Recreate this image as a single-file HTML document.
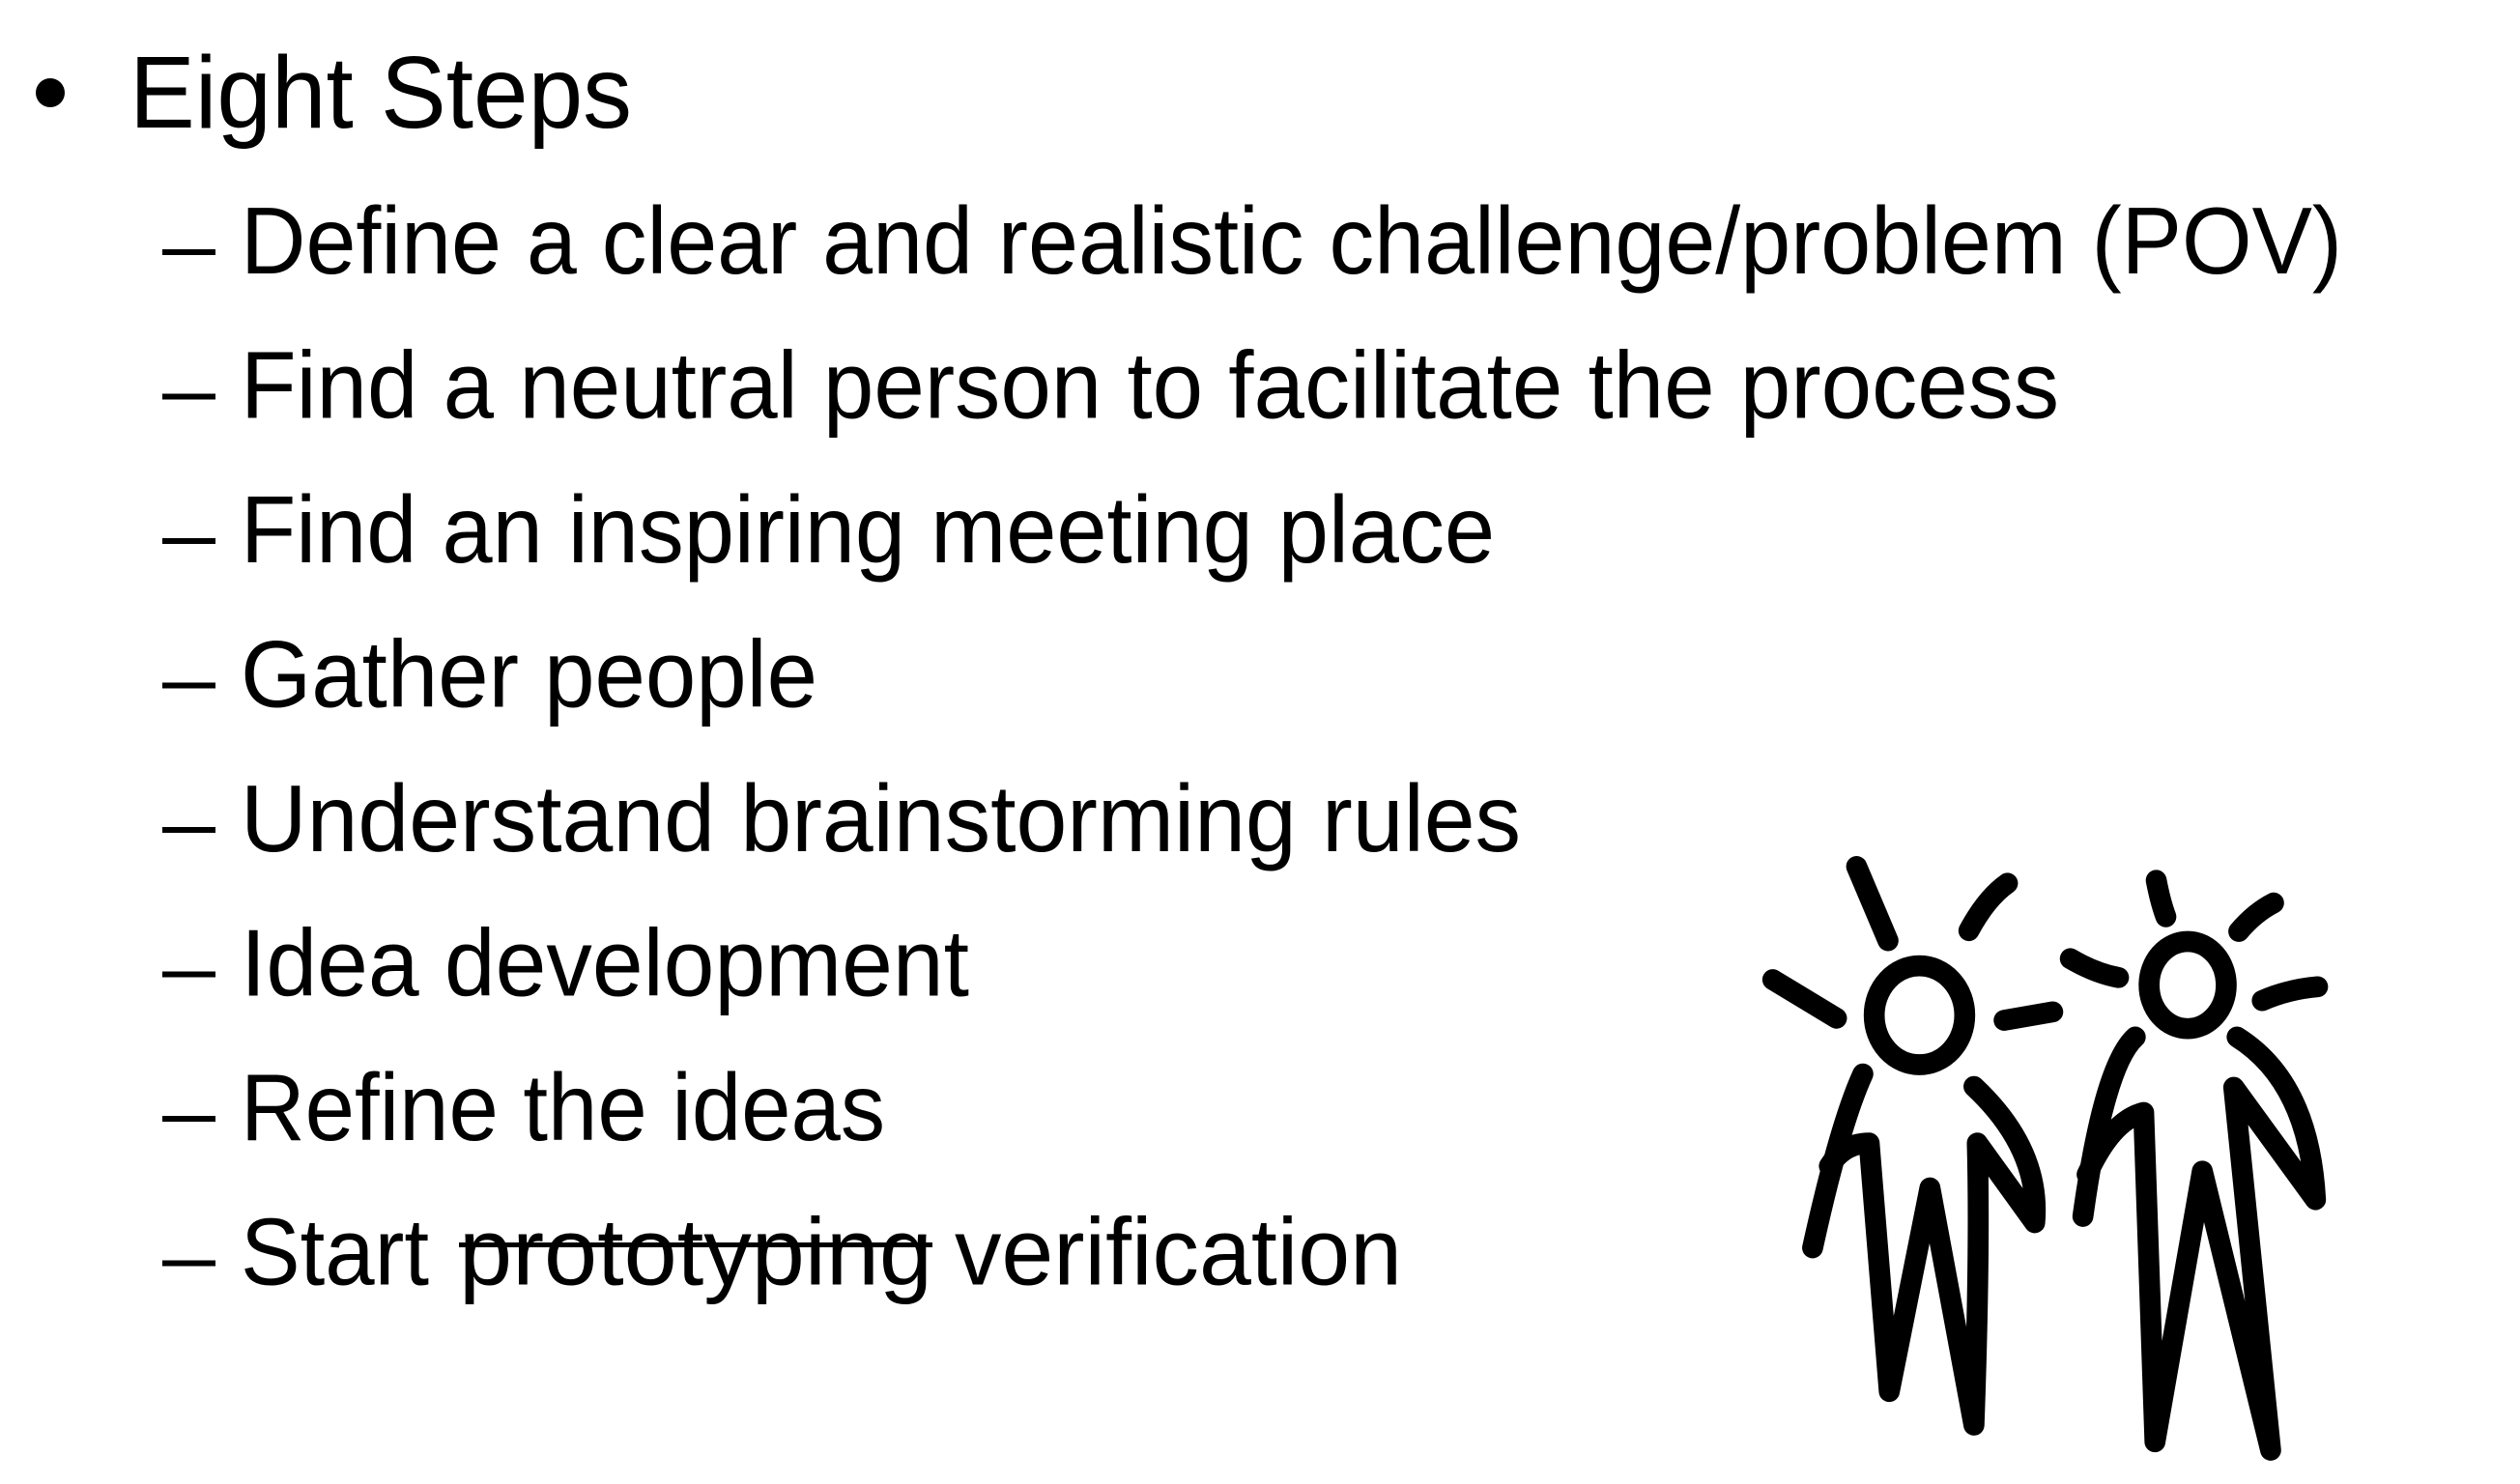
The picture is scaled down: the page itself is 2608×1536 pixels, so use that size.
<!DOCTYPE html>
<html><head><meta charset="utf-8"><style>
html,body{margin:0;padding:0;background:#fff;width:2608px;height:1536px;overflow:hidden}
svg{display:block}
text{font-family:"Liberation Sans",sans-serif;fill:#000}
</style></head><body>
<svg width="2608" height="1536" viewBox="0 0 2608 1536">
<circle cx="52" cy="96" r="15"/>
<text x="134" y="132" font-size="106" textLength="520" lengthAdjust="spacingAndGlyphs">Eight Steps</text>
<g font-size="98">
<rect x="168" y="258" width="55" height="6"/>
<text x="249" y="283" textLength="2175" lengthAdjust="spacingAndGlyphs">Define a clear and realistic challenge/problem (POV)</text>
<rect x="168" y="407.5" width="55" height="6"/>
<text x="249" y="432.5" textLength="1882" lengthAdjust="spacingAndGlyphs">Find a neutral person to facilitate the process</text>
<rect x="168" y="557" width="55" height="6"/>
<text x="249" y="582" textLength="1298" lengthAdjust="spacingAndGlyphs">Find an inspiring meeting place</text>
<rect x="168" y="706.5" width="55" height="6"/>
<text x="249" y="731.5" textLength="597" lengthAdjust="spacingAndGlyphs">Gather people</text>
<rect x="168" y="856" width="55" height="6"/>
<text x="249" y="881" textLength="1325" lengthAdjust="spacingAndGlyphs">Understand brainstorming rules</text>
<rect x="168" y="1005.5" width="55" height="6"/>
<text x="249" y="1030.5" textLength="754" lengthAdjust="spacingAndGlyphs">Idea development</text>
<rect x="168" y="1155" width="55" height="6"/>
<text x="249" y="1180" textLength="667" lengthAdjust="spacingAndGlyphs">Refine the ideas</text>
<rect x="168" y="1304.5" width="55" height="6"/>
<text x="249" y="1329.5" textLength="195" lengthAdjust="spacingAndGlyphs">Start</text>
<text x="475" y="1329.5" textLength="490" lengthAdjust="spacingAndGlyphs">prototyping</text>
<rect x="475" y="1286" width="490" height="5"/>
<text x="988" y="1329.5" textLength="463" lengthAdjust="spacingAndGlyphs">verification</text>
</g>
<g transform="translate(1800,860) scale(0.4337)" fill="none" stroke="#000" stroke-width="50" stroke-linecap="round" stroke-linejoin="round">
<g>
<ellipse cx="430" cy="440" rx="108" ry="118"/>
<path d="M280,85 L355,262 M548,238 Q590,160 640,125 M80,355 L232,447 M632,452 L748,432"/>
<path d="M295,580 Q240,700 175,995"/>
<path d="M215,800 Q250,745 310,745 L358,1338 L455,852 L560,1418 Q575,1000 568,745 L705,935 Q720,760 560,610"/>
</g>
<g>
<ellipse cx="1070" cy="368" rx="92" ry="104"/>
<path d="M995,118 Q1005,170 1018,205 M1192,240 Q1230,195 1275,172 M790,305 Q850,340 905,350 M1248,405 Q1310,378 1380,372"/>
<path d="M945,492 Q870,560 820,920"/>
<path d="M830,820 Q890,690 965,672 L992,1458 L1105,812 L1268,1478 Q1220,1000 1180,612 L1375,880 Q1360,600 1188,492"/>
</g>
</g>
</svg>
</body></html>
